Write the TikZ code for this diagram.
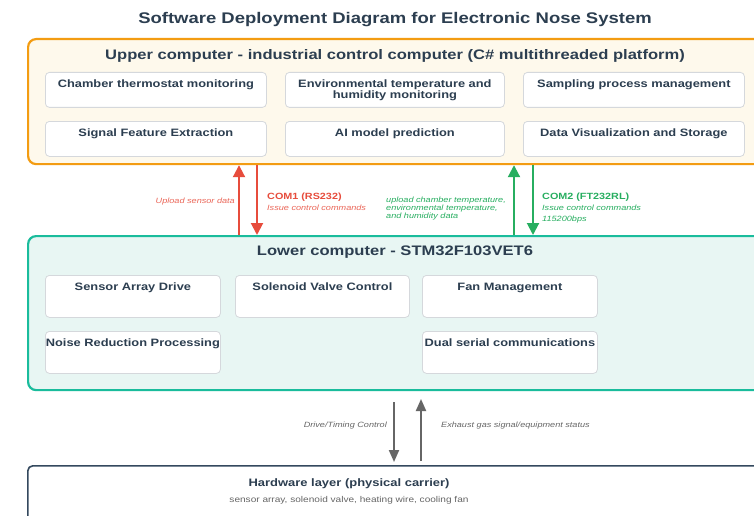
\documentclass[tikz,border=0pt]{standalone}
\usepackage{fontspec}
\setmainfont{Liberation Sans}[FakeStretch=1.2]
\usetikzlibrary{arrows.meta,calc}
\definecolor{titlec}{HTML}{2C3E50}
\definecolor{upborder}{HTML}{F39C12}
\definecolor{upfill}{HTML}{FEF9EC}
\definecolor{lowborder}{HTML}{1ABC9C}
\definecolor{lowfill}{HTML}{E8F6F3}
\definecolor{redc}{HTML}{E74C3C}
\definecolor{greenc}{HTML}{27AE60}
\definecolor{grayc}{HTML}{666666}
\definecolor{hwborder}{HTML}{34495E}
\definecolor{innerb}{HTML}{D5D8DC}
\tikzset{
  outerbox/.style={draw, line width=2.2pt, rounded corners=8pt, anchor=north west, inner sep=0pt},
  inbox/.style={draw=innerb, line width=0.8pt, fill=white, rounded corners=4pt, anchor=north west, inner sep=0pt},
  intext/.style={font=\fontsize{10.7}{11.5}\selectfont\bfseries, text=titlec, align=center, anchor=north, inner sep=0pt},
  boxtitle/.style={font=\fontsize{13.8}{16}\selectfont\bfseries, text=titlec, inner sep=0pt},
  lbl/.style={font=\fontsize{7.6}{7}\selectfont\itshape, inner sep=0pt},
  comlbl/.style={font=\fontsize{9}{11}\selectfont\bfseries, inner sep=0pt},
  redarrow/.style={draw=redc, line width=2pt, -{Triangle[width=12pt,length=12pt]}},
  greenarrow/.style={draw=greenc, line width=2pt, -{Triangle[width=12pt,length=12pt]}},
  grayarrow/.style={draw=grayc, line width=2pt, -{Triangle[width=10pt,length=12pt]}},
}
\begin{document}
\begin{tikzpicture}[x=1pt,y=-1pt]
\useasboundingbox (0,0) rectangle (754,516);
\clip (0,0) rectangle (754,516);
\fill[white] (0,0) rectangle (754,516);
% title
\node[font=\fontsize{15.4}{18}\selectfont\bfseries, text=titlec, inner sep=0pt] (title) at (395,19.5) {Software Deployment Diagram for Electronic Nose System};
% upper computer
\node[outerbox, draw=upborder, fill=upfill, minimum width=736pt, minimum height=125pt] (upper) at (27,38) {};
\node[boxtitle] (uptitle) at (395,55.5) {Upper computer - industrial control computer (C\# multithreaded platform)};
\node[inbox, minimum width=221pt, minimum height=35pt] (u1) at (45,72) {};
\node[inbox, minimum width=219pt, minimum height=35pt] (u2) at (285,72) {};
\node[inbox, minimum width=221pt, minimum height=35pt] (u3) at (523,72) {};
\node[inbox, minimum width=221pt, minimum height=35pt] (u4) at (45,121) {};
\node[inbox, minimum width=219pt, minimum height=35pt] (u5) at (285,121) {};
\node[inbox, minimum width=221pt, minimum height=35pt] (u6) at (523,121) {};
\node[intext, yshift=-7.5pt] at (u1.north) {Chamber thermostat monitoring};
\node[intext, yshift=-7.5pt] at (u2.north) {Environmental temperature and\\humidity monitoring};
\node[intext, yshift=-7.5pt] at (u3.north) {Sampling process management};
\node[intext, yshift=-7.5pt] at (u4.north) {Signal Feature Extraction};
\node[intext, yshift=-7.5pt] at (u5.north) {AI model prediction};
\node[intext, yshift=-7.5pt] at (u6.north) {Data Visualization and Storage};
% lower computer
\node[outerbox, draw=lowborder, fill=lowfill, minimum width=736pt, minimum height=154pt] (lower) at (27,235) {};
\node[boxtitle] (lowtitle) at (395,252.5) {Lower computer - STM32F103VET6};
\node[inbox, minimum width=175pt, minimum height=42pt] (l1) at (45,275) {};
\node[inbox, minimum width=174pt, minimum height=42pt] (l2) at (235,275) {};
\node[inbox, minimum width=175pt, minimum height=42pt] (l3) at (422,275) {};
\node[inbox, minimum width=175pt, minimum height=42pt] (l4) at (45,331) {};
\node[inbox, minimum width=175pt, minimum height=42pt] (l5) at (422,331) {};
\node[intext, yshift=-7.5pt] at (l1.north) {Sensor Array Drive};
\node[intext, yshift=-7.5pt] at (l2.north) {Solenoid Valve Control};
\node[intext, yshift=-7.5pt] at (l3.north) {Fan Management};
\node[intext, yshift=-7.5pt] at (l4.north) {Noise Reduction Processing};
\node[intext, yshift=-7.5pt] at (l5.north) {Dual serial communications};
% hardware layer
\node[outerbox, draw=hwborder, line width=1.6pt, fill=white, rounded corners=5pt, minimum width=736pt, minimum height=100pt] (hw) at (27,465) {};
\node[font=\fontsize{10.8}{13}\selectfont\bfseries, text=titlec, inner sep=0pt] (hwtitle) at (349,484) {Hardware layer (physical carrier)};
\node[font=\fontsize{8.4}{10}\selectfont, text=grayc, inner sep=0pt] (hwsub) at (349,500.5) {sensor array, solenoid valve, heating wire, cooling fan};
% COM1 arrows
\coordinate (ra) at (239,0);
\coordinate (rb) at (257,0);
\draw[redarrow] (ra |- lower.north) -- (ra |- upper.south);
\draw[redarrow] (rb |- upper.south) -- (rb |- lower.north);
\node[lbl, text=redc!85, anchor=base east] (upl) at (235,203) {Upload sensor data};
\node[comlbl, text=redc, anchor=base west] (com1) at (267,199) {COM1 (RS232)};
\node[lbl, text=redc!85, anchor=base west] (iss1) at (267,210) {Issue control commands};
% COM2 arrows
\coordinate (ga) at (514,0);
\coordinate (gb) at (533,0);
\draw[greenarrow] (ga |- lower.north) -- (ga |- upper.south);
\draw[greenarrow] (gb |- upper.south) -- (gb |- lower.north);
\node[lbl, text=greenc, anchor=north west, align=left] (upg) at (386,197) {upload chamber temperature,\\environmental temperature,\\and humidity data};
\node[comlbl, text=greenc, anchor=base west] (com2) at (542,199) {COM2 (FT232RL)};
\node[lbl, text=greenc, anchor=base west] (iss2) at (542,210) {Issue control commands};
\node[lbl, text=greenc, anchor=base west] (bps) at (542,221) {115200bps};
% hardware arrows
\coordinate (d1) at (394,402);
\coordinate (d2) at (421,461);
\coordinate (d2e) at (421,399);
\draw[grayarrow] (d1) -- ([yshift=3pt]d1 |- hw.north);
\draw[grayarrow] (d2) -- (d2e);
\node[lbl, text=grayc, anchor=base east] (drv) at (387,427) {Drive/Timing Control};
\node[lbl, text=grayc, anchor=base west] (exh) at (441,427) {Exhaust gas signal/equipment status};
\end{tikzpicture}
\end{document}
